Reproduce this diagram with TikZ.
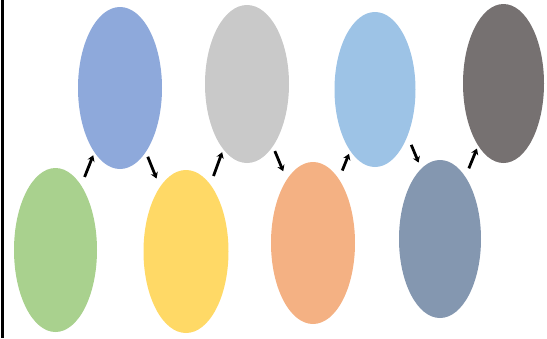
\documentclass[tikz,border=0pt]{standalone}
\usepackage{xcolor}
\usepackage{tikz}
\usetikzlibrary{shapes.geometric,arrows.meta}

\definecolor{cgreen}{HTML}{A9D18E}
\definecolor{cblue}{HTML}{8EA9DB}
\definecolor{cyellow}{HTML}{FFD966}
\definecolor{cgray}{HTML}{C9C9C9}
\definecolor{corange}{HTML}{F4B183}
\definecolor{clightblue}{HTML}{9DC3E6}
\definecolor{cslate}{HTML}{8497B0}
\definecolor{cdark}{HTML}{767171}

\begin{document}
\begin{tikzpicture}[x=1pt, y=-1pt,
  blob/.style={ellipse, draw=none, inner sep=0pt, minimum width=84pt, minimum height=162pt},
  arr/.style={-{Stealth[length=6pt,width=7.5pt]}, line width=2.8pt, black},
  up/.style={arr, shorten <=9pt, shorten >=3pt},
  down/.style={arr, shorten <=5pt, shorten >=9pt}
]
\useasboundingbox (0,0) rectangle (547,338);
\draw[line width=3pt] (2.5,0) -- (2.5,338);

% top row
\node[blob, fill=cblue] (blue) at (120,88) {};
\node[blob, fill=cgray, minimum height=158pt] (gray) at (247,84) {};
\node[blob, fill=clightblue, minimum width=81pt, minimum height=155pt] (lightblue) at (375,89.5) {};
\node[blob, fill=cdark, minimum width=81pt, minimum height=159pt] (dark) at (503.5,83.5) {};

% bottom row
\node[blob, fill=cgreen, minimum width=83pt, minimum height=164pt] (green) at (55.5,250) {};
\node[blob, fill=cyellow, minimum width=85pt, minimum height=163pt] (yellow) at (186,251.5) {};
\node[blob, fill=corange, minimum width=84pt, minimum height=162pt] (orange) at (313,243) {};
\node[blob, fill=cslate, minimum width=82pt, minimum height=158pt] (slate) at (440,239) {};

\draw[up] (green) -- (blue);
\draw[down] (blue) -- (yellow);
\draw[up] (yellow) -- (gray);
\draw[down] (gray) -- (orange);
\draw[up] (orange) -- (lightblue);
\draw[arr, shorten <=9.5pt, shorten >=6.5pt] (lightblue.-55) -- (slate.105);
\draw[up] (slate) -- (dark);

\end{tikzpicture}
\end{document}
